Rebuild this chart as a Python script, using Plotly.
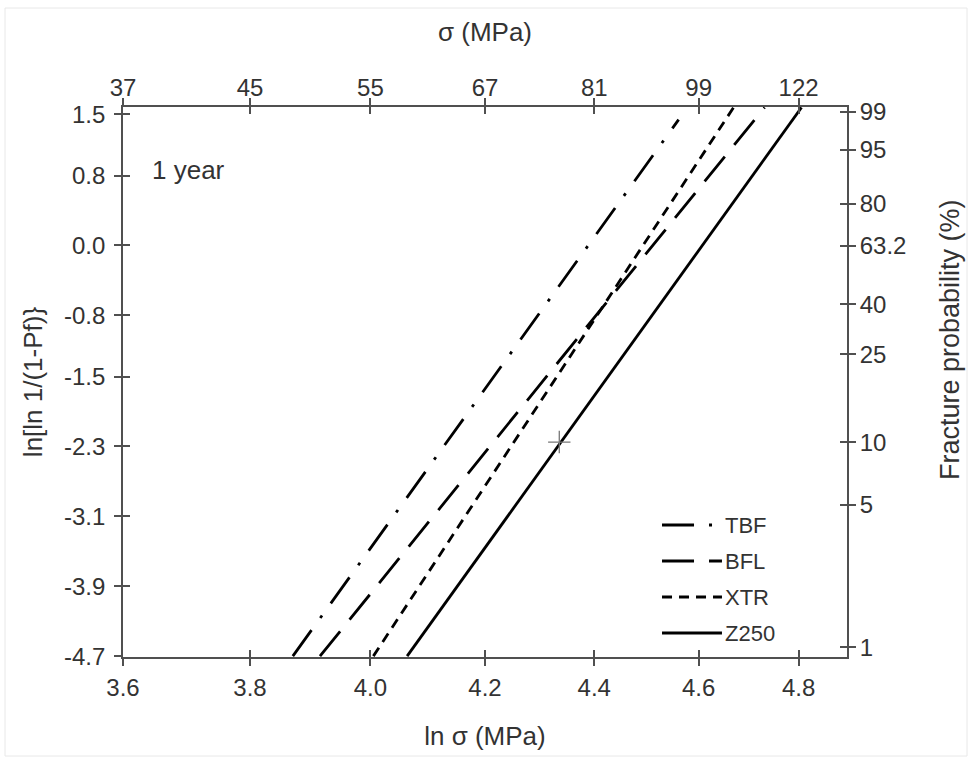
import numpy as np
import plotly.graph_objects as go

# ---------------- data ----------------
SERIES = ["TBF", "BFL", "XTR", "Z250"]
# each line given by its two end points (y = ln[ln 1/(1-Pf)], x = ln sigma)
TBF_Y = [-4.7, 1.44]
TBF_LNSIG = [3.870, 4.561]
BFL_Y = [-4.7, 1.58]
BFL_LNSIG = [3.915, 4.731]
XTR_Y = [-4.7, 1.58]
XTR_LNSIG = [4.005, 4.669]
Z250_Y = [-4.7, 1.58]
Z250_LNSIG = [4.063, 4.806]

MARK_LNSIG = [4.335]
MARK_Y = [-2.25]

BOTTOM_TICKS = [3.6, 3.8, 4.0, 4.2, 4.4, 4.6, 4.8]
BOTTOM_LABELS = ["3.6", "3.8", "4.0", "4.2", "4.4", "4.6", "4.8"]
TOP_LABELS = ["37", "45", "55", "67", "81", "99", "122"]
LEFT_TICKS = [1.5, 0.8, 0.0, -0.8, -1.5, -2.3, -3.1, -3.9, -4.7]
LEFT_LABELS = ["1.5", "0.8", "0.0", "-0.8", "-1.5", "-2.3", "-3.1", "-3.9", "-4.7"]
PROB_LABELS = ["99", "95", "80", "63.2", "40", "25", "10", "5", "1"]

# ---------------- styles ----------------
STYLE = {
    "TBF": dict(dash="32px,15px,3px,15px"),
    "BFL": dict(dash="32px,15px"),
    "XTR": dict(dash="10px,7px"),
    "Z250": dict(dash="solid"),
}
DATA = {
    "TBF": (TBF_LNSIG, TBF_Y),
    "BFL": (BFL_LNSIG, BFL_Y),
    "XTR": (XTR_LNSIG, XTR_Y),
    "Z250": (Z250_LNSIG, Z250_Y),
}
FONT = "Liberation Sans, Arial, Helvetica, sans-serif"
AX = "#505050"
TXT = "#333333"
TICKF = 24
TITLEF = 26
LW = 2.8

XR = [np.log10(3.6), np.log10(4.90)]
YR = [-4.71, 1.585]

prob = np.array([float(p) for p in PROB_LABELS]) / 100.0
prob_pos = np.log(np.log(1.0 / (1.0 - prob)))

fig = go.Figure()
for name in SERIES:
    xs, ys = DATA[name]
    fig.add_trace(go.Scatter(x=xs, y=ys, mode="lines", name=name,
                             line=dict(color="black", width=LW, dash=STYLE[name]["dash"]),
                             showlegend=False, hoverinfo="skip"))

fig.add_trace(go.Scatter(x=MARK_LNSIG, y=MARK_Y, mode="markers", showlegend=False,
                         marker=dict(symbol="cross-thin", size=16,
                                     line=dict(color="#777777", width=1.3)),
                         hoverinfo="skip"))

# dummy traces to register overlay axes
for xa, ya in [("x2", "y2"), ("x3", "y3"), ("x4", "y4")]:
    fig.add_trace(go.Scatter(x=[3.6], y=[0], xaxis=xa, yaxis=ya, mode="markers",
                             marker=dict(size=1, opacity=0), showlegend=False,
                             hoverinfo="skip"))

common_x = dict(type="log", range=XR, tickvals=BOTTOM_TICKS, showgrid=False,
                zeroline=False, tickcolor=AX, tickwidth=1.5, ticklen=7,
                tickfont=dict(family=FONT, size=TICKF, color=TXT))
common_y = dict(range=YR, showgrid=False, zeroline=False, tickcolor=AX,
                tickwidth=1.5, ticklen=7,
                tickfont=dict(family=FONT, size=TICKF, color=TXT))

fig.update_layout(
    width=972, height=761,
    margin=dict(l=123, r=125, t=107, b=104),
    paper_bgcolor="white", plot_bgcolor="white",
    font=dict(family=FONT, color=TXT),
    xaxis=dict(**common_x, ticktext=BOTTOM_LABELS, ticks="outside", side="bottom",
               anchor="y", showline=True, linecolor=AX, linewidth=1.8,
               ticklabelstandoff=1,
               title=dict(text="ln σ (MPa)", standoff=27,
                          font=dict(family=FONT, size=TITLEF, color=TXT))),
    xaxis2=dict(**common_x, ticktext=TOP_LABELS, ticks="outside", side="top",
                overlaying="x", anchor="y", showline=True, linecolor=AX, linewidth=1.8,
                ticklabelstandoff=-7,
                title=dict(text="σ (MPa)", standoff=24,
                           font=dict(family=FONT, size=TITLEF, color=TXT))),
    xaxis3=dict(**common_x, ticks="inside", side="bottom", overlaying="x", anchor="y",
                showticklabels=False, showline=False),
    xaxis4=dict(**common_x, ticks="inside", side="top", overlaying="x", anchor="y",
                showticklabels=False, showline=False),
    yaxis=dict(**common_y, tickvals=LEFT_TICKS, ticktext=LEFT_LABELS, ticks="outside",
               side="left", anchor="x", showline=True, linecolor=AX, linewidth=1.8,
               ticklabelstandoff=4,
               title=dict(text="ln[ln 1/(1-Pf)}", standoff=14,
                          font=dict(family=FONT, size=TITLEF, color=TXT))),
    yaxis2=dict(**common_y, tickvals=list(prob_pos), ticktext=PROB_LABELS, ticks="outside",
                side="right", overlaying="y", anchor="x", showline=True, linecolor=AX,
                linewidth=1.8, ticklabelstandoff=-1),
    yaxis3=dict(**common_y, tickvals=LEFT_TICKS, ticks="inside", side="left",
                overlaying="y", anchor="x", showticklabels=False, showline=False),
    yaxis4=dict(**common_y, tickvals=list(prob_pos), ticks="inside", side="right",
                overlaying="y", anchor="x", showticklabels=False, showline=False),
)

# right-hand axis title (sits above the axis centre in the original)
fig.add_annotation(text="Fracture probability (%)", xref="paper", yref="paper",
                   x=(950 - 123) / 724, y=(657 - 340) / 550, textangle=-90,
                   xanchor="center", yanchor="middle", showarrow=False,
                   font=dict(family=FONT, size=27, color=TXT))

# "1 year" label
fig.add_annotation(text="1 year", xref="paper", yref="paper", x=(150 - 123) / 724,
                   y=(657 - 170) / 550, xanchor="left", yanchor="middle", showarrow=False,
                   font=dict(family=FONT, size=26, color=TXT))

# manual legend keys (long samples as in the original)
LEG_Y = [0.24, 0.1745, 0.109, 0.0436]
for name, ly in zip(SERIES, LEG_Y):
    fig.add_shape(type="line", xref="paper", yref="paper", x0=0.7445, x1=0.8273,
                  y0=ly, y1=ly, line=dict(color="black", width=3, dash=STYLE[name]["dash"]))
    fig.add_annotation(text=name, xref="paper", yref="paper", x=0.829, y=ly,
                       xanchor="left", yanchor="middle", showarrow=False,
                       font=dict(family=FONT, size=22, color=TXT))

# faint outer frame of the picture
fig.add_shape(type="rect", xref="paper", yref="paper",
              x0=(5 - 123) / 724, x1=(967 - 123) / 724,
              y0=(657 - 756) / 550, y1=(657 - 8) / 550,
              line=dict(color="#e8e8e8", width=1))

fig.write_html("out.html", post_script="document.body.style.margin='0px';",
               config={"displayModeBar": False})
